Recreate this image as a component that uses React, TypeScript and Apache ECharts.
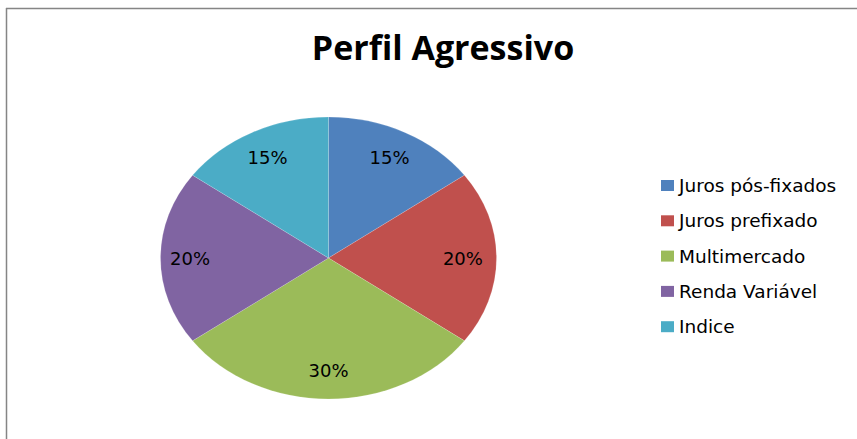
import React, { useEffect, useRef } from "react";
import * as echarts from "echarts";

const titleText = "Perfil Agressivo";
const categories = ["Juros pós-fixados", "Juros prefixado", "Multimercado", "Renda Variável", "Indice"];
const values = [15, 20, 30, 20, 15];
const colors = ["#4F81BD", "#C0504D", "#9BBB59", "#8064A2", "#4BACC6"];

const CX = 328.5;
const CY = 258;
const RX = 168;
const RY = 141;
const LABEL_F = 0.8;

export default function App() {
  const ref = useRef<HTMLDivElement>(null);
  useEffect(() => {
    document.body.style.margin = "0";
    const chart = echarts.init(ref.current!, null, { renderer: "svg" });
    const total = values.reduce((a, b) => a + b, 0);
    const series = categories.map((name, i) => ({
      type: "custom",
      name,
      coordinateSystem: "none",
      itemStyle: { color: colors[i] },
      data: [[values[i]]],
      renderItem: (params: any, api: any) => {
        const before = values.slice(0, i).reduce((a, b) => a + b, 0);
        const v = api.value(0);
        const a0 = -Math.PI / 2 + (before / total) * Math.PI * 2;
        const a1 = -Math.PI / 2 + ((before + v) / total) * Math.PI * 2;
        const mid = (a0 + a1) / 2;
        const pct = Math.round((v / total) * 100) + "%";
        return {
          type: "group",
          children: [
            {
              type: "sector",
              x: CX,
              y: CY,
              scaleY: RY / RX,
              shape: { cx: 0, cy: 0, r0: 0, r: RX, startAngle: a0, endAngle: a1, clockwise: true },
              style: { fill: colors[i], stroke: "rgba(255,255,255,0.35)", lineWidth: 0.5 },
            },
            {
              type: "text",
              x: CX + Math.cos(mid) * RX * LABEL_F - (i === 3 ? 4 : 0),
              y: CY + Math.sin(mid) * RY * LABEL_F,
              style: {
                text: pct,
                fill: "#000",
                font: "18px 'DejaVu Sans'",
                textAlign: "center",
                textVerticalAlign: "middle",
              },
            },
          ],
        };
      },
    }));
    chart.setOption({
      animation: false,
      color: colors,
      title: {
        text: titleText,
        left: 438,
        textAlign: "center",
        top: 25,
        textStyle: { fontFamily: "Open Sans", fontWeight: "bold", fontSize: 34, color: "#000" },
      },
      legend: {
        orient: "vertical",
        left: 661,
        top: 176,
        padding: 0,
        itemWidth: 13,
        itemHeight: 11,
        itemGap: 16.3,
        icon: "rect",
        data: categories,
        textStyle: { fontFamily: "DejaVu Sans", fontSize: 18.5, color: "#000" },
      },
      graphic: [
        { type: "line", shape: { x1: 6, y1: 8.5, x2: 857, y2: 8.5 }, style: { stroke: "#858585", lineWidth: 1.5 } },
        { type: "line", shape: { x1: 6.5, y1: 8, x2: 6.5, y2: 439 }, style: { stroke: "#858585", lineWidth: 1.5 } },
      ],
      series,
    });
    return () => chart.dispose();
  }, []);
  return <div ref={ref} style={{ width: 857, height: 439 }} />;
}
